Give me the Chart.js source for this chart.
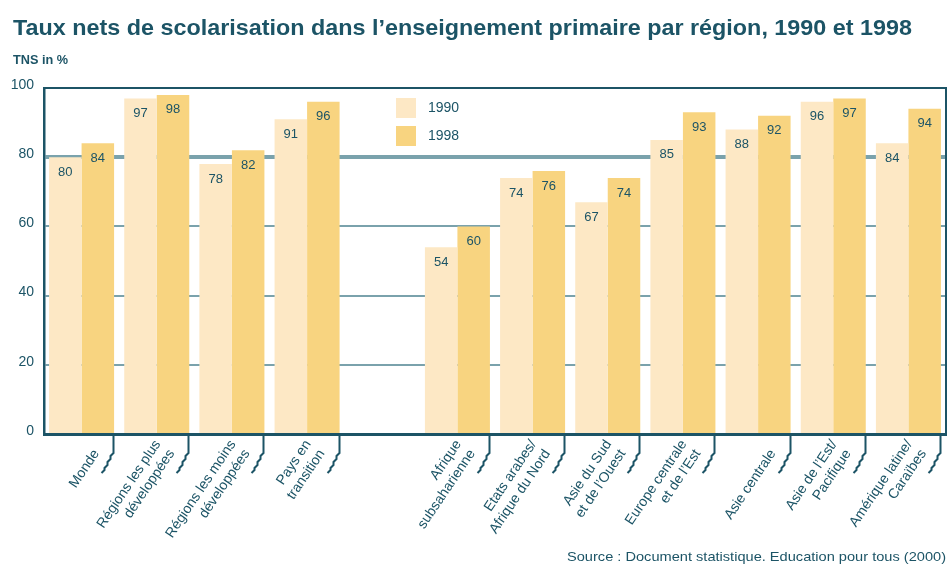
<!DOCTYPE html>
<html>
<head>
<meta charset="utf-8">
<script src="https://cdn.jsdelivr.net/npm/chart.js@4.4.1/dist/chart.umd.min.js"></script>
<style>
  html, body { margin: 0; padding: 0; background: #fff; }
  #wrap { width: 949px; height: 566px; }
</style>
</head>
<body>
<div id="wrap"><canvas id="tnsChart"></canvas></div>
<script>
// regions (an empty slot separates the two groups, legend sits there)
const regions = [
  ["", "Monde"],
  ["Régions les plus", "développées"],
  ["Régions les moins", "développées"],
  ["Pays en", "transition"],
  "",
  ["Afrique", "subsaharienne"],
  ["Etats arabes/", "Afrique du Nord"],
  ["Asie du Sud", "et de l’Ouest"],
  ["Europe centrale", "et de l’Est"],
  ["", "Asie centrale"],
  ["Asie de l’Est/", "Pacifique"],
  ["Amérique latine/", "Caraïbes"]
];
const tns1990 = [80, 97, 78, 91, null, 54, 74, 67, 85, 88, 96, 84];
const tns1998 = [84, 98, 82, 96, null, 60, 76, 74, 93, 92, 97, 94];
const yTicks = [0, 20, 40, 60, 80, 100];

const dark = "#1c5466";
const gridTeal = "#7aa2ac";
const light = "#fde8c5";
const gold = "#f8d480";

function fitText(ctx, text, x, y, width) {
  const w = ctx.measureText(text).width;
  ctx.save();
  ctx.translate(x, y);
  ctx.scale(width / w, 1);
  ctx.fillText(text, 0, 0);
  ctx.restore();
}

const decor = {
  id: "decor",
  afterDatasetsDraw(chart) {
    const { ctx, chartArea: a } = chart;
    ctx.save();

    // top and right sides of the frame
    ctx.strokeStyle = dark;
    ctx.lineWidth = 2;
    ctx.beginPath();
    ctx.moveTo(a.left, a.top);
    ctx.lineTo(a.right, a.top);
    ctx.lineTo(a.right, a.bottom);
    ctx.stroke();

    // values inside the bars
    ctx.fillStyle = dark;
    ctx.font = "13px 'Liberation Sans'";
    ctx.textAlign = "center";
    ctx.textBaseline = "middle";
    chart.data.datasets.forEach((ds, d) => {
      chart.getDatasetMeta(d).data.forEach((bar, i) => {
        if (ds.data[i] == null) return;
        ctx.fillText(ds.data[i], bar.x, bar.y + 15);
      });
    });

    // stepped tick marks under the axis
    const meta = chart.getDatasetMeta(1);
    ctx.lineWidth = 2;
    meta.data.forEach((bar, i) => {
      if (tns1998[i] == null) return;
      const x = Math.round(bar.x + bar.width / 2) - 0.5;
      const y = a.bottom + 1;
      ctx.beginPath();
      ctx.moveTo(x, y);
      ctx.lineTo(x, y + 18);
      ctx.lineTo(x - 3, y + 21);
      ctx.lineTo(x - 3, y + 24);
      ctx.lineTo(x - 6, y + 27);
      ctx.lineTo(x - 6, y + 30);
      ctx.lineTo(x - 9, y + 33);
      ctx.lineTo(x - 9, y + 35);
      ctx.lineTo(x - 12, y + 38);
      ctx.stroke();
    });

    // legend
    ctx.textAlign = "left";
    ctx.font = "14px 'Liberation Sans'";
    chart.data.datasets.forEach((ds, d) => {
      const y = 98 + d * 28;
      ctx.fillStyle = ds.backgroundColor;
      ctx.fillRect(396, y, 20, 20);
      ctx.fillStyle = dark;
      ctx.fillText(ds.label, 428, y + 10);
    });

    // title, unit, source
    ctx.fillStyle = dark;
    ctx.textBaseline = "alphabetic";
    ctx.font = "bold 22px 'Liberation Sans Narrow', 'Liberation Sans'";
    fitText(ctx, "Taux nets de scolarisation dans l’enseignement primaire par région, 1990 et 1998", 13, 35, 899);
    ctx.font = "bold 13px 'Liberation Sans Narrow', 'Liberation Sans'";
    fitText(ctx, "TNS in %", 13, 64, 55);
    ctx.font = "13px 'Liberation Sans Narrow', 'Liberation Sans'";
    fitText(ctx, "Source : Document statistique. Education pour tous (2000)", 567, 561, 379);

    ctx.restore();
  }
};

new Chart(document.getElementById("tnsChart"), {
  type: "bar",
  data: {
    labels: regions,
    datasets: [
      { label: "1990", data: tns1990, backgroundColor: light },
      { label: "1998", data: tns1998, backgroundColor: gold }
    ]
  },
  options: {
    responsive: true,
    maintainAspectRatio: false,
    animation: false,
    layout: { padding: { top: 88, right: 3, left: 0, bottom: 0 } },
    datasets: { bar: { categoryPercentage: 0.865, barPercentage: 1 } },
    plugins: {
      legend: { display: false },
      tooltip: { enabled: false }
    },
    scales: {
      x: {
        afterFit: (s) => { s.height = 132; },
        grid: { drawOnChartArea: false, drawTicks: false },
        border: { color: dark, width: 3 },
        ticks: {
          autoSkip: false,
          minRotation: 56,
          maxRotation: 56,
          padding: 3,
          labelOffset: 1,
          color: dark,
          font: { family: "'Liberation Sans'", size: 14 }
        }
      },
      y: {
        min: 0,
        max: 100,
        afterFit: (s) => { s.width = 44; },
        afterBuildTicks: (s) => { s.ticks = yTicks.map((v) => ({ value: v })); },
        grid: {
          drawTicks: false,
          color: (c) => c.tick.value === 0 ? "rgba(0,0,0,0)" : (c.tick.value === 100 ? dark : gridTeal),
          lineWidth: (c) => c.tick.value === 80 ? 4 : 2
        },
        border: { color: dark, width: 2.5 },
        ticks: {
          padding: 10,
          labelOffset: -3,
          color: dark,
          font: { family: "'Liberation Sans Narrow', 'Liberation Sans'", size: 14 }
        }
      }
    }
  },
  plugins: [decor]
});
</script>
</body>
</html>
